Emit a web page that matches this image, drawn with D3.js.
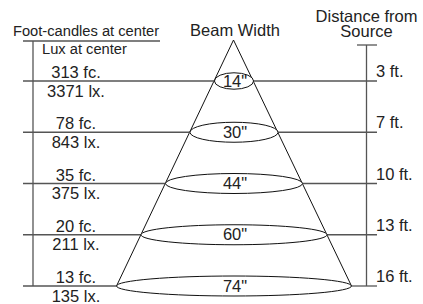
<!DOCTYPE html>
<html>
<head>
<meta charset="utf-8">
<script src="https://cdn.jsdelivr.net/npm/d3@7"></script>
<style>
  body { margin: 0; background: #fff; }
  svg text { font-family: "Liberation Sans", Arial, Helvetica, sans-serif; fill: #222; }
</style>
</head>
<body>
<svg id="chart" width="423" height="304"></svg>
<script>
// chart data
const distances = ['3 ft.', '7 ft.', '10 ft.', '13 ft.', '16 ft.'];
const footCandles = ['313 fc.', '78 fc.', '35 fc.', '20 fc.', '13 fc.'];
const luxValues = ['3371 lx.', '843 lx.', '375 lx.', '211 lx.', '135 lx.'];
const beamWidths = ['14"', '30"', '44"', '60"', '74"'];

const svg = d3.select('#chart');

// layout
const apexY = 40, cx = 234;
const leftX = 23, rightX = 377;
const leftAxisX = 33, rightAxisX = 366.5;

// one level per distance, evenly spaced
const y = d3.scalePoint().domain(distances).range([81, 286]);

// cone half width grows linearly from the apex
const halfWidth = d3.scaleLinear().domain([apexY, 286]).range([0, 117.5]);

// headers
svg.append('text').attr('x', 86).attr('y', 36).attr('text-anchor', 'middle')
  .style('font-size', '14.7px').text('Foot-candles at center');
svg.append('line').attr('x1', leftX).attr('x2', 160).attr('y1', 41).attr('y2', 41)
  .attr('stroke', '#555').attr('stroke-width', 1.3);
svg.append('text').attr('x', 42).attr('y', 54)
  .style('font-size', '14.7px').text('Lux at center');

svg.append('text').attr('x', cx + 1).attr('y', 36).attr('text-anchor', 'middle')
  .style('font-size', '16.5px').text('Beam Width');

svg.append('text').attr('x', rightAxisX).attr('y', 21.5).attr('text-anchor', 'middle')
  .style('font-size', '16.5px').text('Distance from');
svg.append('text').attr('x', rightAxisX).attr('y', 37).attr('text-anchor', 'middle')
  .style('font-size', '16.5px').text('Source');

// vertical axis lines
svg.append('line').attr('x1', leftAxisX).attr('x2', leftAxisX)
  .attr('y1', 41).attr('y2', y(distances[distances.length - 1]))
  .attr('stroke', '#555').attr('stroke-width', 1.3);
svg.append('line').attr('x1', rightAxisX).attr('x2', rightAxisX)
  .attr('y1', 45).attr('y2', y(distances[distances.length - 1]))
  .attr('stroke', '#555').attr('stroke-width', 1.3);
svg.append('line').attr('x1', 357).attr('x2', rightX).attr('y1', 45).attr('y2', 45)
  .attr('stroke', '#555').attr('stroke-width', 1.3);

// cone sides
const bottomY = y(distances[distances.length - 1]);
svg.append('path')
  .attr('d', d3.line()([[cx - halfWidth(bottomY), bottomY], [cx - 0.5, apexY], [cx + halfWidth(bottomY), bottomY]]))
  .attr('fill', 'none').attr('stroke', '#111').attr('stroke-width', 1);

// levels
const levels = svg.selectAll('g.level')
  .data(distances)
  .join('g')
  .attr('class', 'level');

levels.each(function(d, i) {
  const g = d3.select(this);
  const ly = y(d);
  const rx = halfWidth(ly);
  const ry = Math.min(10, rx * 0.42);

  // horizontal guide lines stop at the beam ellipse
  g.append('line').attr('x1', leftX).attr('x2', cx - rx).attr('y1', ly).attr('y2', ly)
    .attr('stroke', '#555').attr('stroke-width', 1.3);
  g.append('line').attr('x1', cx + rx).attr('x2', rightX).attr('y1', ly).attr('y2', ly)
    .attr('stroke', '#555').attr('stroke-width', 1.3);

  g.append('ellipse').attr('cx', cx).attr('cy', ly).attr('rx', rx).attr('ry', ry)
    .attr('fill', '#fff').attr('stroke', '#111').attr('stroke-width', 1);

  g.append('text').attr('x', cx + 1).attr('y', ly + 5.5).attr('text-anchor', 'middle')
    .style('font-size', '16.5px').text(beamWidths[i]);

  g.append('text').attr('x', 76).attr('y', ly - 3).attr('text-anchor', 'middle')
    .style('font-size', '16.5px').text(footCandles[i]);
  g.append('text').attr('x', 76).attr('y', ly + 15.5).attr('text-anchor', 'middle')
    .style('font-size', '16.5px').text(luxValues[i]);

  g.append('text').attr('x', 376).attr('y', ly - 4).
    style('font-size', '16.5px').text(d);
});
</script>
</body>
</html>
